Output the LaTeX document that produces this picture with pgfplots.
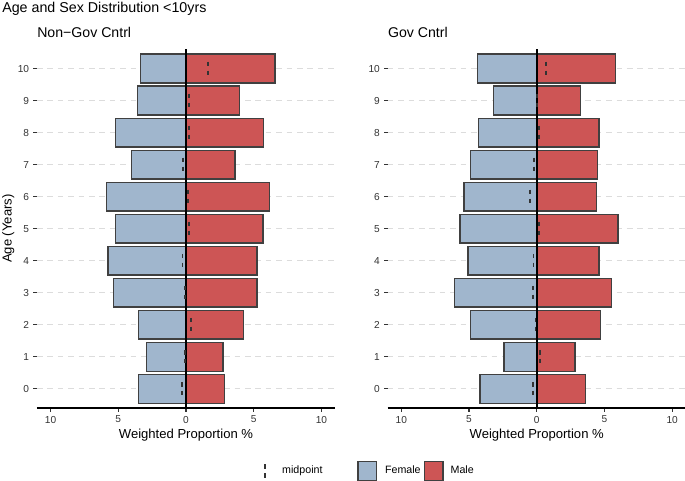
\documentclass[border=0pt]{standalone}
\usepackage{fontspec}
\setmainfont{Liberation Sans}
\usepackage{pgfplots}
\usepackage{pgfplotstable}
\pgfplotsset{compat=1.18}

\definecolor{femc}{HTML}{A0B6CD}
\definecolor{malec}{HTML}{CD5555}
\definecolor{edgec}{HTML}{404040}
\definecolor{gridc}{HTML}{DCDCDC}
\definecolor{tickc}{HTML}{333333}
\definecolor{labc}{HTML}{333333}
\definecolor{midc}{HTML}{333333}

% age, female (drawn to the left), male, midpoint
\pgfplotstableread{
age fem male mid
0 -3.50 2.86 -0.32
1 -2.93 2.74 -0.10
2 -3.50 4.26 0.38
3 -5.34 5.25 -0.05
4 -5.76 5.25 -0.26
5 -5.22 5.69 0.24
6 -5.86 6.14 0.14
7 -4.01 3.62 -0.20
8 -5.22 5.72 0.25
9 -3.57 3.94 0.19
10 -3.37 6.58 1.60
}\nongov

\pgfplotstableread{
age fem male mid
0 -4.19 3.62 -0.29
1 -2.42 2.83 0.21
2 -4.88 4.70 -0.09
3 -6.09 5.51 -0.29
4 -5.08 4.60 -0.24
5 -5.67 5.99 0.16
6 -5.37 4.41 -0.48
7 -4.88 4.51 -0.19
8 -4.29 4.60 0.16
9 -3.21 3.22 0.01
10 -4.39 5.81 0.71
}\gov

\pgfplotsset{
    pyr/.style={
        scale only axis,
        width=223.5pt,
        height=269pt,
        xmin=-11, xmax=11,
        ymin=-0.6, ymax=10.6,
        axis x line*=bottom,
        axis y line*=left,
        axis line style={-},
        x axis line style={black, line width=1.2pt},
        y axis line style={draw=none},
        xtick={-10,-5,0,5,10},
        xticklabels={10,5,0,5,10},
        ytick={0,...,10},
        tick align=outside,
        major tick length=2.75pt,
        tick style={tickc, line width=0.8pt},
        ymajorgrids,
        major grid style={gridc, line width=0.8pt, dash pattern=on 4.2pt off 3.6pt},
        /pgf/number format/assume math mode=true,
        tick label style={font=\fontsize{7.6}{8}\selectfont, text=labc},
        xticklabel style={inner sep=0pt, yshift=-3pt},
        yticklabel style={inner sep=0pt, xshift=-3pt},
        title style={at={(axis description cs:0,1)}, anchor=base west,
            yshift=2.7pt, inner sep=0pt, font=\fontsize{10.6}{12}\selectfont},
        xlabel style={at={(axis description cs:0.5,0)}, anchor=base,
            yshift=-22.7pt, inner sep=0pt, font=\fontsize{9.8}{11}\selectfont},
        xlabel={Weighted Proportion \%},
    },
    fbar/.style={xbar, bar width=0.9, bar shift=0pt, fill=femc, draw=edgec, line width=1pt},
    mbar/.style={xbar, bar width=0.9, bar shift=0pt, fill=malec, draw=edgec, line width=1pt},
    midm/.style={only marks, mark=|, mark size=5.2pt,
        mark options={draw=midc, line width=1.4pt, dash pattern=on 3.5pt off 3.2pt}},
}

\begin{document}
\begin{tikzpicture}
\useasboundingbox (0,0) rectangle (513.75pt,360pt);

\node[anchor=base west, inner sep=0pt, font=\fontsize{10.7}{12}\selectfont]
    at (1.5pt,350.5pt) {Age and Sex Distribution <10yrs};

\begin{axis}[pyr,
    name=L,
    at={(27.75pt,54pt)}, anchor=south west,
    title={Non−Gov Cntrl},
    legend style={at={(axis description cs:0.7607,-0.1756)}, anchor=west,
        draw=none, fill=none, legend columns=3, inner sep=0pt, outer sep=0pt,
        nodes={inner sep=0pt}, column sep=0pt,
        font=\fontsize{8}{9}\selectfont},
    legend cell align=left,
]
\addplot[fbar, forget plot] table[x=fem, y=age] {\nongov};
\addplot[mbar, forget plot] table[x=male, y=age] {\nongov};
\addplot[black, line width=1.2pt, forget plot] coordinates {(0,-0.6) (0,10.6)};
\addplot[midm, forget plot] table[x=mid, y=age] {\nongov};

\addlegendimage{legend image code/.code={
    \path (-1pt,0pt) (12.5pt,0pt);
    \draw[midc, line width=1.4pt, dash pattern=on 3.2pt off 3.5pt] (0pt,5pt) -- (0pt,-5pt);}}
\addlegendentry{midpoint}
\addlegendimage{legend image code/.code={
    \path (-26.5pt,0pt) (20pt,0pt);
    \draw[draw=edgec, fill=femc, line width=1pt] (0pt,-7pt) rectangle (14pt,7pt);}}
\addlegendentry{Female}
\addlegendimage{legend image code/.code={
    \path (-2.6pt,0pt) (19.5pt,0pt);
    \draw[draw=edgec, fill=malec, line width=1pt] (0pt,-7pt) rectangle (14pt,7pt);}}
\addlegendentry{Male}
\end{axis}

% y axis title
\node[rotate=90, anchor=base, inner sep=0pt, font=\fontsize{9.8}{11}\selectfont]
    at ([xshift=-19.1pt]L.west) {Age (Years)};

\begin{axis}[pyr,
    at={(290.8pt,54pt)}, anchor=south west,
    title={Gov Cntrl},
]
\addplot[fbar] table[x=fem, y=age] {\gov};
\addplot[mbar] table[x=male, y=age] {\gov};
\addplot[black, line width=1.2pt] coordinates {(0,-0.6) (0,10.6)};
\addplot[midm] table[x=mid, y=age] {\gov};
\end{axis}
\end{tikzpicture}
\end{document}
